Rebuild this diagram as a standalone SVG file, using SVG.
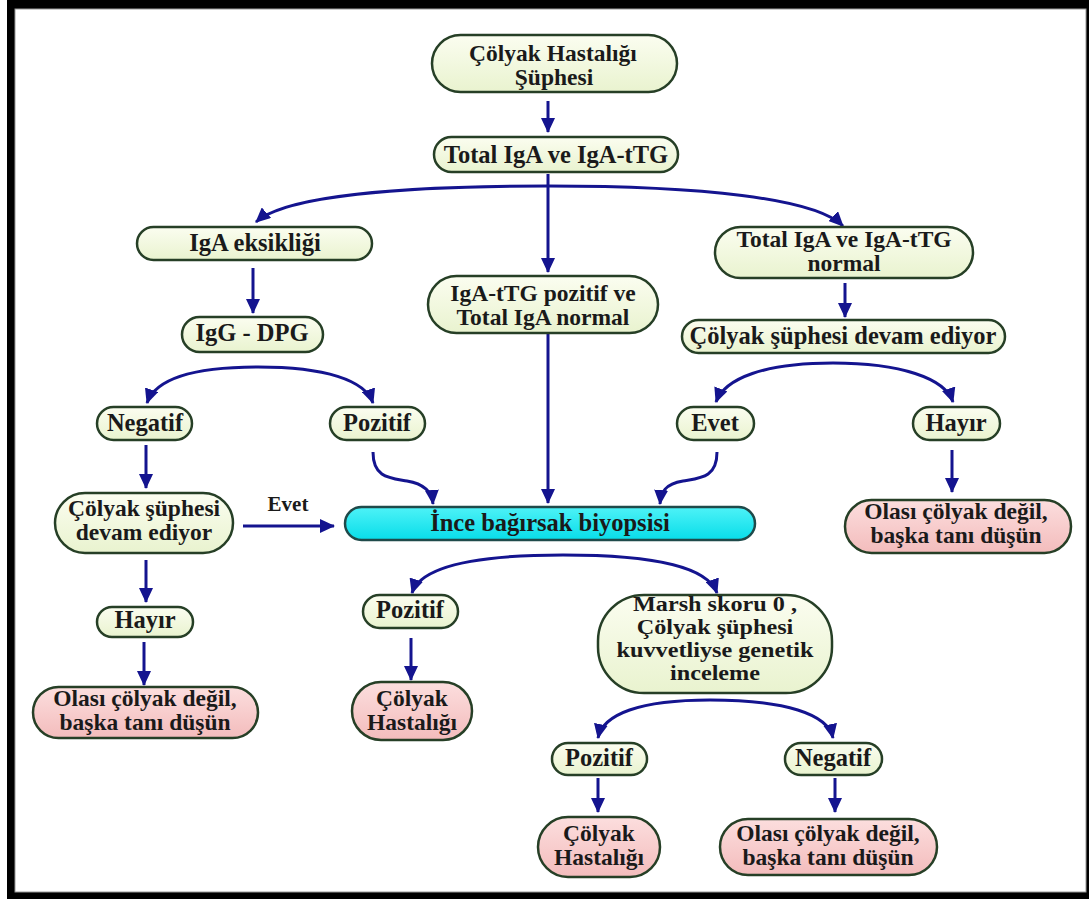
<svg xmlns="http://www.w3.org/2000/svg" width="1089" height="899" viewBox="0 0 1089 899">
<defs>
<linearGradient id="gG" x1="0" y1="0" x2="0" y2="1"><stop offset="0" stop-color="#fbfdf0"/><stop offset="1" stop-color="#e9f3cf"/></linearGradient>
<linearGradient id="gP" x1="0" y1="0" x2="0" y2="1"><stop offset="0" stop-color="#fcdede"/><stop offset="1" stop-color="#f3bcbc"/></linearGradient>
<linearGradient id="gC" x1="0" y1="0" x2="0" y2="1"><stop offset="0" stop-color="#4ef2f7"/><stop offset="1" stop-color="#08dde9"/></linearGradient>
<marker id="ah" markerUnits="userSpaceOnUse" markerWidth="16" markerHeight="14" refX="14" refY="7" orient="auto"><path d="M0,0 L15,7 L0,14 z" fill="#14148f"/></marker>
<style>
.g{fill:url(#gG);stroke:#263f26;stroke-width:2.5}
.p{fill:url(#gP);stroke:#263f26;stroke-width:2.5}
.c{fill:url(#gC);stroke:#1f4a4a;stroke-width:2.5}
text{font-family:"Liberation Serif","Times New Roman",serif;font-weight:bold;font-size:23.5px;fill:#1a1a1a;text-anchor:middle}
.s{font-size:24.5px}
.m{font-size:22px}
.e path{fill:none;stroke:#14148f;stroke-width:3;marker-end:url(#ah)}
</style>
</defs>
<rect x="7" y="0" width="1082" height="899" fill="#000"/>
<rect x="15" y="9" width="1071" height="883" fill="#fff" stroke="#999" stroke-width="1"/>

<g id="connectors" class="e">
<path d="M548 101 L548 132"/>
<path d="M548 186 C400 186 285 196 256 222"/>
<path d="M548 186 C700 186 815 198 843 226"/>
<path d="M548 174 L548 272"/>
<path d="M253 268 L253 313"/>
<path d="M845 283 L845 317"/>
<path d="M258 367 C190 367 155 380 147 403"/>
<path d="M258 367 C325 367 365 380 373 403"/>
<path d="M833 363 C765 363 725 378 716 402"/>
<path d="M833 363 C900 363 945 378 953 402"/>
<path d="M146 445 L146 488"/>
<path d="M146 560 L146 602"/>
<path d="M144 642 L144 685"/>
<path d="M243 526 L334 526"/>
<path d="M373 452 C373 478 390 478 407 481 C425 484 432 492 433 504"/>
<path d="M548 331 L548 503"/>
<path d="M717 452 C717 478 700 478 683 481 C665 484 661 492 660 504"/>
<path d="M952 450 L952 492"/>
<path d="M563 555 C470 555 420 568 412 593"/>
<path d="M563 555 C660 555 708 568 717 593"/>
<path d="M411 638 L411 680"/>
<path d="M710 700 C640 700 603 714 598 738"/>
<path d="M710 700 C785 700 828 714 833 738"/>
<path d="M598 778 L598 812"/>
<path d="M835 778 L835 812"/>
</g>

<g id="n1"><rect class="g" x="432" y="35" width="245" height="57" rx="28.5"/><text x="553" y="61">Çölyak Hastalığı</text><text x="554" y="85">Şüphesi</text></g>
<g id="n2"><rect class="g" x="434" y="137" width="244" height="35" rx="17.5"/><text class="s" x="556" y="163">Total IgA ve IgA-tTG</text></g>
<g id="n3"><rect class="g" x="137" y="227" width="235" height="33" rx="16.5"/><text class="s" x="255" y="251">IgA eksikliği</text></g>
<g id="n4"><rect class="g" x="428" y="276" width="230" height="57" rx="28.5"/><text x="543" y="301">IgA-tTG pozitif ve</text><text x="543" y="325">Total IgA normal</text></g>
<g id="n5"><rect class="g" x="715" y="227" width="258" height="51" rx="25.5"/><text x="844" y="247">Total IgA ve IgA-tTG</text><text x="844" y="271">normal</text></g>
<g id="n6"><rect class="g" x="182" y="317" width="141" height="35" rx="17.5"/><text class="s" x="252" y="341">IgG - DPG</text></g>
<g id="n7"><rect class="g" x="682" y="320" width="323" height="33" rx="16.5"/><text class="s" x="843" y="344">Çölyak şüphesi devam ediyor</text></g>
<g id="n8"><rect class="g" x="97" y="407" width="95" height="33" rx="16.5"/><text class="s" x="145" y="431">Negatif</text></g>
<g id="n9"><rect class="g" x="330" y="407" width="95" height="33" rx="16.5"/><text class="s" x="377" y="431">Pozitif</text></g>
<g id="n10"><rect class="g" x="677" y="407" width="77" height="33" rx="16.5"/><text class="s" x="715" y="431">Evet</text></g>
<g id="n11"><rect class="g" x="913" y="407" width="87" height="33" rx="16.5"/><text class="s" x="956" y="431">Hayır</text></g>
<g id="n12"><rect class="g" x="55" y="493" width="178" height="60" rx="30"/><text x="144" y="516">Çölyak şüphesi</text><text x="144" y="540">devam ediyor</text></g>
<g id="lbl-evet"><text x="288" y="511" style="font-size:21px">Evet</text></g>
<g id="n13"><rect class="c" x="345" y="507" width="410" height="33" rx="16.5"/><text class="s" x="550" y="531">İnce bağırsak biyopsisi</text></g>
<g id="n14"><rect class="p" x="845" y="500" width="226" height="53" rx="26.5"/><text x="956" y="519">Olası çölyak değil,</text><text x="956" y="543">başka tanı düşün</text></g>
<g id="n15"><rect class="g" x="97" y="607" width="96" height="30" rx="15"/><text class="s" x="145" y="628">Hayır</text></g>
<g id="n16"><rect class="g" x="363" y="595" width="95" height="33" rx="16.5"/><text class="s" x="410" y="618">Pozitif</text></g>
<g id="n17"><rect class="g" x="598" y="595" width="234" height="98" rx="46"/><g transform="translate(715 0) scale(1.1 1) translate(-715 0)"><text class="m" x="715" y="611">Marsh skoru 0 ,</text><text class="m" x="715" y="634">Çölyak şüphesi</text><text class="m" x="715" y="657">kuvvetliyse genetik</text><text class="m" x="715" y="680">inceleme</text></g></g>
<g id="n18"><rect class="p" x="33" y="687" width="225" height="51" rx="25.5"/><text x="145" y="706">Olası çölyak değil,</text><text x="145" y="730">başka tanı düşün</text></g>
<g id="n19"><rect class="p" x="352" y="682" width="120" height="58" rx="29"/><text x="412" y="706">Çölyak</text><text x="412" y="730">Hastalığı</text></g>
<g id="n20"><rect class="g" x="552" y="743" width="95" height="32" rx="16"/><text class="s" x="599" y="766">Pozitif</text></g>
<g id="n21"><rect class="g" x="785" y="743" width="97" height="32" rx="16"/><text class="s" x="833" y="766">Negatif</text></g>
<g id="n22"><rect class="p" x="538" y="817" width="122" height="60" rx="30"/><text x="599" y="841">Çölyak</text><text x="599" y="865">Hastalığı</text></g>
<g id="n23"><rect class="p" x="720" y="819" width="217" height="56" rx="28"/><text x="828" y="841">Olası çölyak değil,</text><text x="828" y="865">başka tanı düşün</text></g>
</svg>
